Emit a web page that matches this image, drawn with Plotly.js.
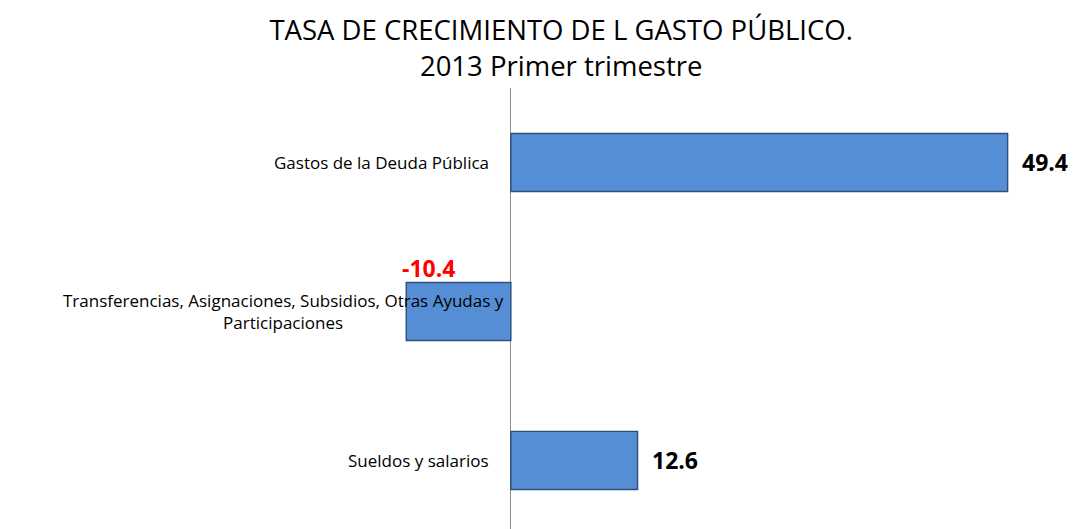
<!DOCTYPE html>
<html>
<head>
<meta charset="utf-8">
<script src="https://cdn.plot.ly/plotly-3.0.1.min.js"></script>
<style>html,body{margin:0;padding:0;background:#fff;}#chart{width:1073px;height:529px;}</style>
</head>
<body>
<div id="chart"></div>
<script>
const categories = ["Sueldos y salarios", "Transferencias, Asignaciones, Subsidios, Otras Ayudas y<br>Participaciones", "Gastos de la Deuda Pública"];
const values = [12.6, -10.4, 49.4];
const valueLabels = ["12.6", "-10.4", "49.4"];
const titleText = "TASA DE CRECIMIENTO DE L GASTO PÚBLICO.<br>2013 Primer trimestre";

const FONT = "Open Sans, Liberation Sans, sans-serif";

const trace = {
  type: "bar",
  orientation: "h",
  x: values,
  y: categories,
  width: 0.39,
  marker: {color: "#558ED5", line: {color: "#2C4F7C", width: 1.4}},
  hoverinfo: "skip"
};

const annotations = [];
categories.forEach((c, i) => {
  const wide = c.indexOf("<br>") >= 0;
  annotations.push({
    x: 0, y: c, xref: "x", yref: "y",
    text: c, showarrow: false, xanchor: "right", yanchor: "middle",
    align: "center", xshift: wide ? -5 : -20,
    font: {family: FONT, size: 17, color: "#000"}
  });
  const neg = values[i] < 0;
  annotations.push({
    x: values[i], y: c, xref: "x", yref: "y",
    text: "<b>" + valueLabels[i] + "</b>", showarrow: false,
    xanchor: "left", yanchor: "middle",
    xshift: neg ? -6 : 12, yshift: neg ? 43 : 0,
    font: {family: FONT, size: 23, color: neg ? "#FF0000" : "#000"}
  });
});

const layout = {
  width: 1073, height: 529,
  margin: {l: 0, r: 0, t: 88, b: 0},
  paper_bgcolor: "#fff", plot_bgcolor: "#fff",
  title: {text: titleText, x: 0.523, xanchor: "center", yref: "container", y: 0.924, yanchor: "middle",
          font: {family: FONT, size: 27.5, color: "#000"}},
  xaxis: {range: [-50.8, 55.9], showgrid: false, showticklabels: false, ticks: "",
          zeroline: true, zerolinecolor: "#8C8C8C", zerolinewidth: 1, showline: false, fixedrange: true},
  yaxis: {type: "category", range: [-0.46, 2.5], showgrid: false, showticklabels: false,
          ticks: "", zeroline: false, showline: false, fixedrange: true},
  showlegend: false,
  annotations: annotations
};

Plotly.newPlot("chart", [trace], layout, {displayModeBar: false, staticPlot: true});
</script>
</body>
</html>
